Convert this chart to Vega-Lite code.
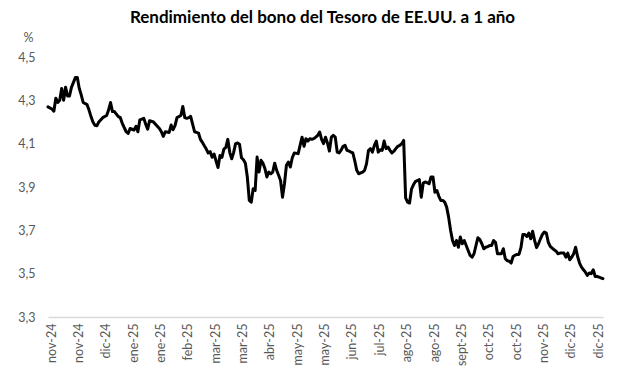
{
  "$schema": "https://vega.github.io/schema/vega-lite/v6.json",
  "autosize": "none",
  "width": 555,
  "height": 260,
  "padding": {"left": 48, "top": 57, "right": 27, "bottom": 65},
  "background": "white",
  "config": {"view": {"stroke": null}},
  "title": {"text": "Rendimiento del bono del Tesoro de EE.UU. a 1 año", "font": "Lato", "fontSize": 17, "fontWeight": "bold", "color": "#000000", "anchor": "middle", "dx": -3, "offset": 4},
  "data": {"values": [
    {"i":0,"v":4.27},{"i":2,"v":4.26},{"i":3,"v":4.25},{"i":4,"v":4.31},{"i":5,"v":4.29},{"i":6,"v":4.30},{"i":7,"v":4.355},{"i":8,"v":4.30},{"i":9,"v":4.36},{"i":10,"v":4.32},{"i":11,"v":4.32},{"i":12,"v":4.36},{"i":14,"v":4.405},{"i":15,"v":4.405},{"i":16,"v":4.355},{"i":17,"v":4.325},{"i":18,"v":4.29},{"i":20,"v":4.28},{"i":21,"v":4.255},{"i":22,"v":4.225},{"i":23,"v":4.20},{"i":24,"v":4.185},{"i":25,"v":4.183},{"i":26,"v":4.20},{"i":28,"v":4.22},{"i":30,"v":4.23},{"i":31,"v":4.255},{"i":32,"v":4.29},{"i":33,"v":4.248},{"i":34,"v":4.248},{"i":36,"v":4.225},{"i":37,"v":4.22},{"i":38,"v":4.194},{"i":40,"v":4.155},{"i":41,"v":4.147},{"i":42,"v":4.17},{"i":44,"v":4.163},{"i":45,"v":4.18},{"i":46,"v":4.155},{"i":47,"v":4.21},{"i":49,"v":4.217},{"i":50,"v":4.19},{"i":51,"v":4.167},{"i":52,"v":4.206},{"i":54,"v":4.20},{"i":55,"v":4.19},{"i":57,"v":4.17},{"i":58,"v":4.155},{"i":59,"v":4.134},{"i":60,"v":4.155},{"i":62,"v":4.152},{"i":63,"v":4.186},{"i":64,"v":4.165},{"i":65,"v":4.183},{"i":66,"v":4.22},{"i":68,"v":4.23},{"i":69,"v":4.272},{"i":70,"v":4.22},{"i":71,"v":4.217},{"i":72,"v":4.22},{"i":73,"v":4.226},{"i":74,"v":4.19},{"i":75,"v":4.155},{"i":76,"v":4.152},{"i":77,"v":4.149},{"i":78,"v":4.12},{"i":79,"v":4.106},{"i":80,"v":4.09},{"i":81,"v":4.075},{"i":82,"v":4.057},{"i":83,"v":4.063},{"i":84,"v":4.037},{"i":85,"v":4.052},{"i":86,"v":4.02},{"i":87,"v":3.99},{"i":88,"v":4.045},{"i":89,"v":4.037},{"i":90,"v":4.075},{"i":91,"v":4.083},{"i":92,"v":4.12},{"i":93,"v":4.06},{"i":94,"v":4.03},{"i":95,"v":4.06},{"i":96,"v":4.10},{"i":97,"v":4.103},{"i":98,"v":4.097},{"i":99,"v":4.035},{"i":100,"v":4.026},{"i":101,"v":4.01},{"i":102,"v":3.946},{"i":103,"v":3.838},{"i":104,"v":3.83},{"i":105,"v":3.892},{"i":106,"v":3.884},{"i":107,"v":4.038},{"i":108,"v":3.969},{"i":109,"v":4.023},{"i":110,"v":4.01},{"i":111,"v":3.985},{"i":112,"v":3.946},{"i":113,"v":3.969},{"i":114,"v":3.961},{"i":115,"v":3.969},{"i":116,"v":4.01},{"i":117,"v":3.977},{"i":118,"v":3.954},{"i":119,"v":3.93},{"i":120,"v":3.853},{"i":121,"v":3.915},{"i":122,"v":4.00},{"i":123,"v":4.015},{"i":124,"v":3.992},{"i":125,"v":4.035},{"i":126,"v":4.057},{"i":128,"v":4.054},{"i":129,"v":4.092},{"i":130,"v":4.13},{"i":131,"v":4.088},{"i":132,"v":4.123},{"i":133,"v":4.112},{"i":134,"v":4.123},{"i":135,"v":4.12},{"i":136,"v":4.123},{"i":137,"v":4.13},{"i":138,"v":4.138},{"i":139,"v":4.154},{"i":140,"v":4.12},{"i":141,"v":4.10},{"i":142,"v":4.13},{"i":143,"v":4.103},{"i":144,"v":4.066},{"i":145,"v":4.13},{"i":146,"v":4.138},{"i":147,"v":4.13},{"i":148,"v":4.061},{"i":149,"v":4.057},{"i":150,"v":4.07},{"i":151,"v":4.088},{"i":152,"v":4.092},{"i":153,"v":4.069},{"i":154,"v":4.066},{"i":155,"v":4.061},{"i":156,"v":4.057},{"i":157,"v":4.02},{"i":158,"v":3.977},{"i":159,"v":3.961},{"i":160,"v":3.965},{"i":161,"v":3.969},{"i":162,"v":3.977},{"i":163,"v":4.008},{"i":164,"v":4.069},{"i":165,"v":4.077},{"i":166,"v":4.061},{"i":167,"v":4.092},{"i":168,"v":4.112},{"i":169,"v":4.061},{"i":170,"v":4.072},{"i":171,"v":4.069},{"i":172,"v":4.112},{"i":173,"v":4.077},{"i":174,"v":4.084},{"i":175,"v":4.069},{"i":176,"v":4.057},{"i":177,"v":4.065},{"i":178,"v":4.077},{"i":179,"v":4.088},{"i":180,"v":4.092},{"i":181,"v":4.10},{"i":182,"v":4.115},{"i":183,"v":3.85},{"i":184,"v":3.83},{"i":185,"v":3.826},{"i":186,"v":3.89},{"i":187,"v":3.91},{"i":188,"v":3.925},{"i":189,"v":3.93},{"i":190,"v":3.934},{"i":191,"v":3.853},{"i":192,"v":3.918},{"i":193,"v":3.923},{"i":194,"v":3.92},{"i":195,"v":3.915},{"i":196,"v":3.946},{"i":197,"v":3.946},{"i":198,"v":3.876},{"i":199,"v":3.884},{"i":200,"v":3.857},{"i":201,"v":3.838},{"i":202,"v":3.838},{"i":203,"v":3.83},{"i":204,"v":3.807},{"i":205,"v":3.761},{"i":206,"v":3.70},{"i":207,"v":3.653},{"i":208,"v":3.63},{"i":209,"v":3.653},{"i":210,"v":3.622},{"i":211,"v":3.669},{"i":212,"v":3.638},{"i":213,"v":3.653},{"i":214,"v":3.63},{"i":215,"v":3.607},{"i":216,"v":3.584},{"i":217,"v":3.576},{"i":218,"v":3.592},{"i":219,"v":3.63},{"i":220,"v":3.666},{"i":221,"v":3.657},{"i":222,"v":3.638},{"i":223,"v":3.615},{"i":224,"v":3.622},{"i":225,"v":3.625},{"i":226,"v":3.63},{"i":227,"v":3.63},{"i":228,"v":3.653},{"i":229,"v":3.645},{"i":230,"v":3.592},{"i":231,"v":3.592},{"i":232,"v":3.592},{"i":233,"v":3.615},{"i":234,"v":3.569},{"i":235,"v":3.56},{"i":236,"v":3.558},{"i":237,"v":3.549},{"i":238,"v":3.579},{"i":239,"v":3.585},{"i":240,"v":3.589},{"i":241,"v":3.589},{"i":242,"v":3.62},{"i":243,"v":3.681},{"i":244,"v":3.681},{"i":245,"v":3.672},{"i":246,"v":3.687},{"i":247,"v":3.661},{"i":248,"v":3.696},{"i":249,"v":3.653},{"i":250,"v":3.62},{"i":251,"v":3.638},{"i":252,"v":3.661},{"i":253,"v":3.681},{"i":254,"v":3.692},{"i":255,"v":3.687},{"i":256,"v":3.645},{"i":257,"v":3.626},{"i":258,"v":3.618},{"i":259,"v":3.61},{"i":260,"v":3.604},{"i":261,"v":3.592},{"i":262,"v":3.595},{"i":264,"v":3.595},{"i":265,"v":3.576},{"i":266,"v":3.595},{"i":267,"v":3.564},{"i":268,"v":3.576},{"i":269,"v":3.592},{"i":270,"v":3.622},{"i":271,"v":3.579},{"i":272,"v":3.549},{"i":273,"v":3.53},{"i":274,"v":3.518},{"i":275,"v":3.507},{"i":276,"v":3.492},{"i":277,"v":3.503},{"i":278,"v":3.50},{"i":279,"v":3.518},{"i":280,"v":3.487},{"i":281,"v":3.487},{"i":282,"v":3.484},{"i":283,"v":3.48},{"i":284,"v":3.477}
  ]},
  "mark": {"type": "line", "color": "#000000", "strokeWidth": 3, "strokeJoin": "round", "strokeCap": "round"},
  "encoding": {
    "x": {
      "field": "i", "type": "quantitative",
      "scale": {"domain": [0, 284], "nice": false, "zero": false},
      "axis": {
        "values": [0,14,28,42,56,70,84,98,112,126,140,154,168,182,196,210,224,238,252,266,280],
        "labelExpr": "['nov-24','nov-24','dic-24','ene-25','ene-25','feb-25','mar-25','mar-25','abr-25','may-25','may-25','jun-25','jul-25','ago-25','ago-25','sept-25','oct-25','oct-25','nov-25','dic-25','dic-25'][round(datum.value/14)]",
        "labelAngle": -90, "labelAlign": "right", "labelBaseline": "middle",
        "labelPadding": 6, "labelOffset": 3, "labelFont": "Lato", "labelFontSize": 12.5, "labelColor": "#595959",
        "labelOverlap": false, "labelBound": false, "labelFlush": false,
        "ticks": false, "grid": false, "domain": true, "domainColor": "#d9d9d9", "domainWidth": 1.5,
        "title": null
      }
    },
    "y": {
      "field": "v", "type": "quantitative",
      "scale": {"domain": [3.3, 4.5], "nice": false, "zero": false},
      "axis": {
        "values": [3.3, 3.5, 3.7, 3.9, 4.1, 4.3, 4.5],
        "labelExpr": "replace(format(datum.value, '.1f'), '.', ',')",
        "labelFont": "Lato", "labelFontSize": 12.5, "labelColor": "#595959", "labelPadding": 13,
        "labelOverlap": false, "labelFlush": false,
        "ticks": false, "grid": false, "domain": false,
        "title": "%", "titleAngle": 0, "titleFont": "Lato", "titleFontSize": 12.5, "titleFontWeight": "normal", "titleColor": "#595959",
        "titleX": -20, "titleY": -20, "titleAlign": "center", "titleBaseline": "middle"
      }
    }
  }
}
